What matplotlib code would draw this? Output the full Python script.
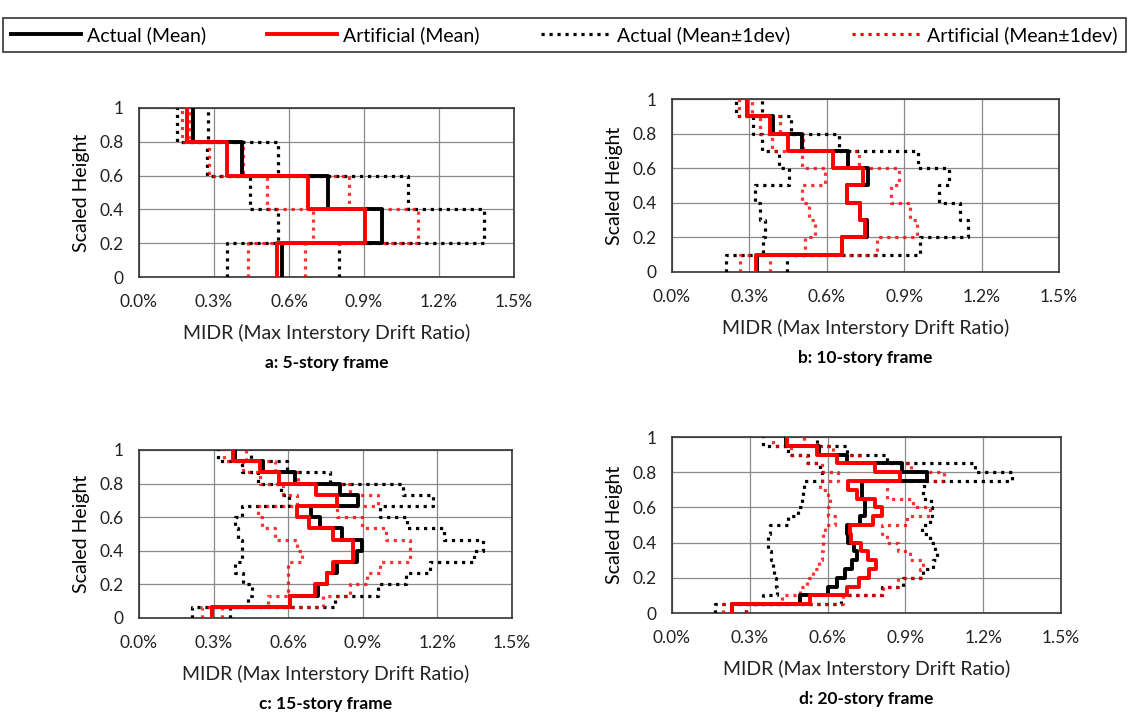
import numpy as np
import matplotlib
matplotlib.use("Agg")
import matplotlib.pyplot as plt
from matplotlib.lines import Line2D

plt.rcParams['font.family'] = ['Lato', 'DejaVu Sans']

# MIDR per story (%), story 1 at the bottom
# a: 5-story
a_act = [0.571, 0.971, 0.755, 0.411, 0.217]
a_art = [0.551, 0.904, 0.675, 0.351, 0.191]
a_act_lo = [0.351, 0.557, 0.444, 0.271, 0.151]
a_act_hi = [0.801, 1.380, 1.075, 0.557, 0.277]
a_art_lo = [0.437, 0.697, 0.511, 0.280, 0.171]
a_art_hi = [0.664, 1.117, 0.841, 0.415, 0.204]

# b: 10-story
b_act = [0.330, 0.660, 0.755, 0.730, 0.680, 0.761, 0.683, 0.503, 0.390, 0.290]
b_art = [0.326, 0.658, 0.750, 0.729, 0.677, 0.742, 0.625, 0.451, 0.380, 0.289]
b_act_lo = [0.211, 0.353, 0.360, 0.340, 0.320, 0.452, 0.415, 0.347, 0.314, 0.248]
b_act_hi = [0.447, 0.963, 1.147, 1.115, 1.035, 1.074, 0.954, 0.648, 0.460, 0.347]
b_art_lo = [0.263, 0.515, 0.555, 0.532, 0.502, 0.593, 0.505, 0.386, 0.343, 0.260]
b_art_hi = [0.380, 0.796, 0.948, 0.922, 0.850, 0.880, 0.725, 0.509, 0.420, 0.310]

# c: 15-story
c_act = [0.292, 0.607, 0.718, 0.758, 0.797, 0.878, 0.895, 0.817, 0.729, 0.692,
         0.881, 0.808, 0.627, 0.500, 0.386]
c_art = [0.292, 0.607, 0.708, 0.755, 0.781, 0.862, 0.862, 0.780, 0.683, 0.635,
         0.796, 0.713, 0.562, 0.486, 0.379]
c_act_lo = [0.212, 0.440, 0.453, 0.420, 0.386, 0.413, 0.413, 0.400, 0.386, 0.413,
            0.605, 0.570, 0.480, 0.413, 0.319]
c_act_hi = [0.367, 0.788, 0.963, 1.072, 1.170, 1.346, 1.384, 1.225, 1.076, 0.969,
            1.183, 1.063, 0.769, 0.594, 0.450]
c_art_lo = [0.252, 0.520, 0.600, 0.600, 0.600, 0.654, 0.634, 0.547, 0.493, 0.479,
            0.634, 0.580, 0.487, 0.420, 0.340]
c_art_hi = [0.333, 0.740, 0.848, 0.916, 0.969, 1.090, 1.090, 0.993, 0.896, 0.796,
            0.963, 0.850, 0.640, 0.547, 0.430]

# d: 20-story
d_act = [0.230, 0.494, 0.603, 0.635, 0.667, 0.693, 0.712, 0.700, 0.680, 0.674,
         0.725, 0.744, 0.744, 0.732, 0.732, 0.982, 0.886, 0.674, 0.565, 0.440]
d_art = [0.230, 0.532, 0.674, 0.720, 0.760, 0.785, 0.755, 0.730, 0.690, 0.686,
         0.776, 0.809, 0.783, 0.712, 0.680, 0.880, 0.783, 0.635, 0.558, 0.442]
d_act_lo = [0.166, 0.350, 0.404, 0.400, 0.393, 0.388, 0.380, 0.371, 0.370, 0.378,
            0.449, 0.487, 0.500, 0.505, 0.510, 0.580, 0.570, 0.526, 0.449, 0.350]
d_act_hi = [0.285, 0.650, 0.810, 0.890, 0.969, 1.008, 1.021, 1.015, 0.995, 0.963,
            0.995, 1.001, 1.000, 0.969, 0.970, 1.310, 1.170, 0.828, 0.674, 0.560]
d_art_lo = [0.195, 0.423, 0.494, 0.519, 0.545, 0.565, 0.578, 0.584, 0.584, 0.590,
            0.629, 0.603, 0.610, 0.600, 0.570, 0.640, 0.580, 0.520, 0.460, 0.390]
d_art_hi = [0.287, 0.660, 0.815, 0.870, 0.956, 0.969, 0.918, 0.872, 0.828, 0.809,
            0.905, 0.995, 0.930, 0.830, 0.830, 1.050, 0.920, 0.720, 0.620, 0.510]

titles = ["a: 5-story frame", "b: 10-story frame", "c: 15-story frame", "d: 20-story frame"]
x_ticks = [0.0, 0.3, 0.6, 0.9, 1.2, 1.5]
x_ticklabels = ["0.0%", "0.3%", "0.6%", "0.9%", "1.2%", "1.5%"]
y_ticks = [0, 0.2, 0.4, 0.6, 0.8, 1.0]
y_ticklabels = ["0", "0.2", "0.4", "0.6", "0.8", "1"]

panels = [
    (a_act, a_art, a_act_lo, a_act_hi, a_art_lo, a_art_hi),
    (b_act, b_art, b_act_lo, b_act_hi, b_art_lo, b_art_hi),
    (c_act, c_art, c_act_lo, c_act_hi, c_art_lo, c_art_hi),
    (d_act, d_art, d_act_lo, d_act_hi, d_art_lo, d_art_hi),
]

# axes rectangles in figure fractions [left, bottom, width, height]
rects = [
    [0.1231, 0.6142, 0.3322, 0.2354],
    [0.5952, 0.6212, 0.3428, 0.2409],
    [0.1231, 0.1393, 0.3304, 0.2340],
    [0.5952, 0.1462, 0.3446, 0.2451],
]

RED = "#ff0000"
DOTS = (0, (1, 1.5))


def step_profile(vals):
    n = len(vals)
    edges = np.linspace(0, 1, n + 1)
    x = np.repeat(vals, 2)
    y = np.repeat(edges, 2)[1:-1]
    return x, y


fig = plt.figure(figsize=(11.29, 7.18), dpi=100)

for k, (data, rect) in enumerate(zip(panels, rects)):
    act, art, act_lo, act_hi, art_lo, art_hi = data
    ax = fig.add_axes(rect)
    for v in (act_lo, act_hi):
        x, y = step_profile(v)
        ax.plot(x, y, color="black", ls=DOTS, lw=2.3, zorder=3)
    for v in (art_lo, art_hi):
        x, y = step_profile(v)
        ax.plot(x, y, color=RED, ls=DOTS, lw=2.3, zorder=3, alpha=0.8)
    x, y = step_profile(act)
    ax.plot(x, y, color="black", lw=2.8, zorder=4)
    x, y = step_profile(art)
    ax.plot(x, y, color=RED, lw=2.8, zorder=5)

    ax.set_xlim(0, 1.5)
    ax.set_ylim(0, 1)
    ax.set_xticks(x_ticks)
    ax.set_xticklabels(x_ticklabels)
    ax.set_yticks(y_ticks)
    ax.set_yticklabels(y_ticklabels)
    ax.tick_params(length=0, labelsize=12.5, colors="#222222")
    ax.tick_params(axis="x", pad=12)
    ax.tick_params(axis="y", pad=11)
    ax.grid(True, color="#8a8a8a", lw=0.9)
    ax.set_axisbelow(True)
    for s in ax.spines.values():
        s.set_color("#333333")
        s.set_linewidth(1.2)
    ax.set_ylabel("Scaled Height", fontsize=14, labelpad=7)
    ax.set_xlabel("MIDR (Max Interstory Drift Ratio)", fontsize=14, labelpad=10, color="#222222")
    ax.annotate(titles[k], xy=(0.5, 0), xycoords="axes fraction", xytext=(0, -86 * 0.72),
                textcoords="offset points", ha="center", va="center",
                fontsize=12.5, fontweight="bold")

handles = [
    Line2D([], [], color="black", lw=2.8),
    Line2D([], [], color=RED, lw=2.8),
    Line2D([], [], color="black", lw=2.3, ls=DOTS),
    Line2D([], [], color=RED, lw=2.3, ls=DOTS),
]
labels = ["Actual (Mean)", "Artificial (Mean)", "Actual (Mean\u00b11dev)", "Artificial (Mean\u00b11dev)"]
leg = fig.legend(handles, labels, loc="lower left", bbox_to_anchor=(0.003, 0.928, 0.994, 0.067),
                 mode="expand", ncol=4, frameon=True, fancybox=False, edgecolor="black",
                 fontsize=14, handlelength=3.6, handletextpad=0.3, borderaxespad=0.0,
                 columnspacing=1.0)
leg.get_frame().set_linewidth(1.2)

fig.savefig("out.png", dpi=100)
